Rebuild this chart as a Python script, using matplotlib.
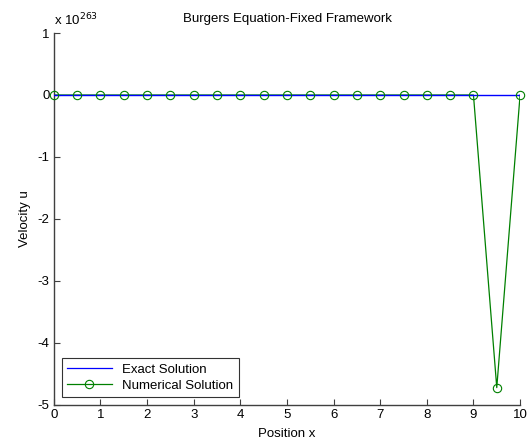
import matplotlib
matplotlib.use("Agg")
import matplotlib.pyplot as plt
from matplotlib.lines import Line2D
import numpy as np

plt.rcParams['font.family'] = ['Liberation Sans', 'DejaVu Sans']

x_exact = [0, 10]
u_exact = [0, 0]
x_num = [0, 0.5, 1, 1.5, 2, 2.5, 3, 3.5, 4, 4.5, 5, 5.5, 6, 6.5, 7, 7.5, 8, 8.5, 9, 9.5, 10]
u_num = [0, 0, 0, 0, 0, 0, 0, 0, 0, 0, 0, 0, 0, 0, 0, 0, 0, 0, 0, -4.72e263, 0]
scale = 1e263
xticks = [0, 1, 2, 3, 4, 5, 6, 7, 8, 9, 10]
yticks = [-5, -4, -3, -2, -1, 0, 1]

blue = (0, 0, 1)
green = (0, 0.5, 0)

fig = plt.figure(figsize=(5.28, 4.46), dpi=100)
ax = fig.add_axes([0.102, 0.092, 0.883, 0.834])
ax.plot(x_num, np.array(u_num) / scale, color=green, lw=0.9, zorder=2)
ax.plot(x_exact, u_exact, color=blue, lw=1.0, zorder=3)
ax.plot(x_num, np.array(u_num) / scale, ls='none', marker='o',
        ms=6, mfc='none', mec=green, mew=0.8, zorder=4, clip_on=False)
ax.set_xlim(0, 10)
ax.set_ylim(-5, 1)
ax.set_xticks(xticks)
ax.set_yticks(yticks)
ax.set_yticklabels([str(t) for t in yticks])
for s in ['top', 'right']:
    ax.spines[s].set_visible(False)
for s in ['left', 'bottom']:
    ax.spines[s].set_color('#404040')
    ax.spines[s].set_linewidth(1.0)
ax.tick_params(direction='in', length=4, colors='#404040', labelcolor='black', labelsize=9.5, pad=3)
ax.set_title('Burgers Equation-Fixed Framework', fontsize=9.5, pad=8)
ax.set_xlabel('Position x', fontsize=9.5, labelpad=5)
ax.set_ylabel('Velocity u', fontsize=9.5, labelpad=5)
ax.text(0.0, 1.012, r'x 10$^{263}$', transform=ax.transAxes, fontsize=9.5, va='bottom', ha='left')
handles = [Line2D([], [], color=blue, lw=0.9),
           Line2D([], [], color=green, lw=0.9, marker='o', ms=6, mfc='none', mec=green, mew=0.8)]
leg = ax.legend(handles, ['Exact Solution', 'Numerical Solution'], loc='lower left',
                fontsize=9.5, frameon=True, fancybox=False,
                edgecolor='black', borderaxespad=0.6, handlelength=3.4, labelspacing=0.3)
leg.get_frame().set_linewidth(0.8)
fig.savefig('out.png', dpi=100)
